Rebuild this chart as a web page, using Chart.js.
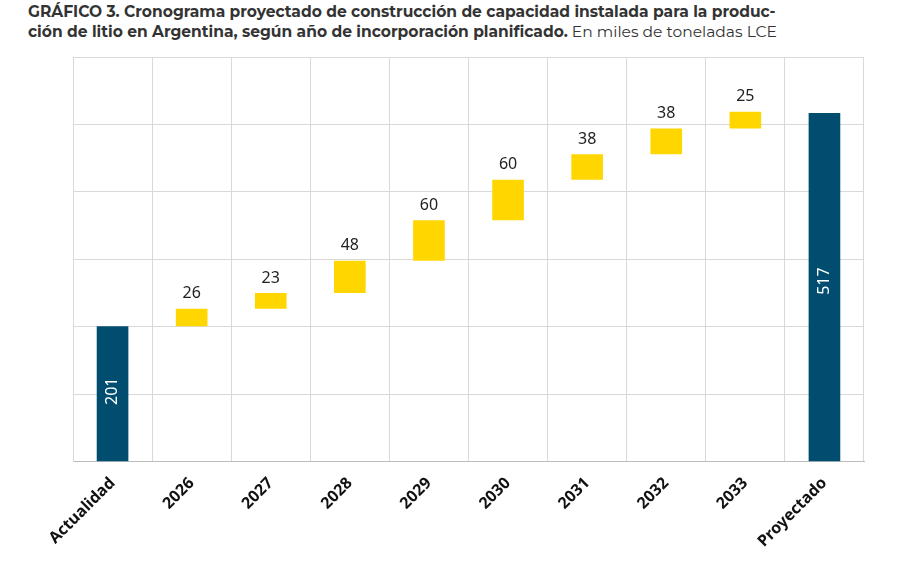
<!DOCTYPE html>
<html>
<head>
<meta charset="utf-8">
<script src="https://cdn.jsdelivr.net/npm/chart.js@4"></script>
<style>
  body { margin: 0; background: #fff; font-family: "Montserrat", "Noto Sans", sans-serif; }
  #title { position: absolute; left: 28px; top: 2px; width: 860px; font-size: 15.5px; line-height: 20px; color: #333; }
  #title b { color: #333; }
  #wrap { position: absolute; left: 0; top: 44px; width: 902px; height: 519px; }
</style>
</head>
<body>
<div id="title"><b>GRÁFICO 3. Cronograma proyectado de construcción de capacidad instalada para la produc-<br>ción de litio en Argentina, según año de incorporación planificado.</b> En miles de toneladas LCE</div>
<div id="wrap"><canvas id="myChart"></canvas></div>
<script>
var categories = ['Actualidad', '2026', '2027', '2028', '2029', '2030', '2031', '2032', '2033', 'Proyectado'];
var increments = [201, 26, 23, 48, 60, 60, 38, 38, 25, 517];
var yTicks = [0, 100, 200, 300, 400, 500, 600];

var bars = [];
var colors = [];
var running = 0;
for (var i = 0; i < categories.length; i++) {
  if (i === 0 || i === categories.length - 1) {
    bars.push([0, increments[i]]);
    colors.push('#004d70');
    running = increments[i];
  } else {
    bars.push([running, running + increments[i]]);
    colors.push('#ffd600');
    running += increments[i];
  }
}

var labelPlugin = {
  id: 'labels',
  afterDatasetsDraw: function (chart) {
    var c = chart.ctx;
    var meta = chart.getDatasetMeta(0);
    meta.data.forEach(function (bar, i) {
      c.save();
      c.font = '16px "Noto Sans", sans-serif';
      c.textAlign = 'center';
      c.textBaseline = 'middle';
      if (i === 0 || i === categories.length - 1) {
        c.fillStyle = '#fff';
        var y = i === 0 ? bar.base - 70 : (bar.y + bar.base) / 2 - 6;
        c.translate(bar.x, y);
        c.rotate(-Math.PI / 2);
        c.fillText(String(increments[i]), 0, 0);
      } else {
        c.fillStyle = '#222';
        c.fillText(String(increments[i]), bar.x, bar.y - 15);
      }
      c.restore();
    });
  }
};

new Chart(document.getElementById('myChart'), {
  type: 'bar',
  data: {
    labels: categories,
    datasets: [{ data: bars, backgroundColor: colors, barPercentage: 0.4, categoryPercentage: 1 }]
  },
  options: {
    responsive: true,
    maintainAspectRatio: false,
    animation: false,
    layout: { padding: { left: 73, right: 38, top: 13 } },
    plugins: { legend: { display: false }, tooltip: { enabled: false } },
    scales: {
      x: {
        grid: { color: '#d9d9d9', offset: true, drawTicks: false },
        border: { color: '#bbb' },
        ticks: { color: '#111', font: { family: '"Noto Sans", sans-serif', weight: 'bold', size: 16 }, maxRotation: 45, minRotation: 45, padding: 12 }
      },
      y: {
        min: yTicks[0], max: yTicks[yTicks.length - 1],
        afterBuildTicks: function (ax) { ax.ticks = yTicks.map(function (v) { return { value: v }; }); },
        grid: { color: '#d9d9d9', drawTicks: false },
        border: { display: true, color: '#d9d9d9' },
        ticks: { display: false }
      }
    }
  },
  plugins: [labelPlugin]
});
</script>
</body>
</html>
